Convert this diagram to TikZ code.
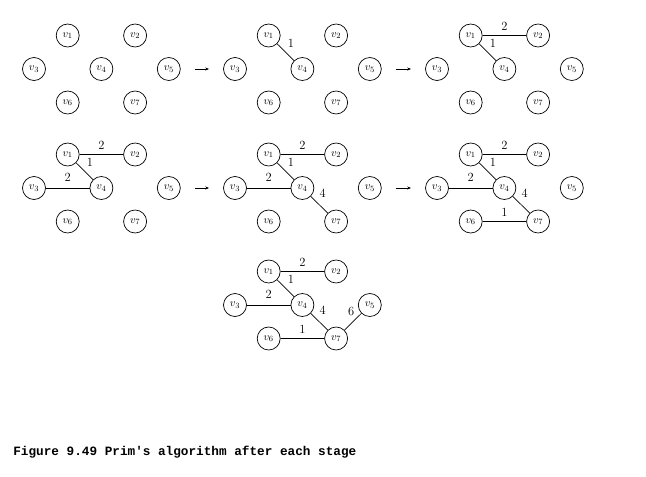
\documentclass[tikz,border=0pt]{standalone}
\usepackage{fontspec}
\newfontfamily\capfont{Liberation Mono}
\usetikzlibrary{positioning,arrows.meta}
\begin{document}
\begin{tikzpicture}[x=1pt, y=-1pt, node distance={33.5pt and 33.7pt}, line width=0.7pt,
	main/.style = {draw, circle, on grid, minimum size=23pt, inner sep=0pt, font=\fontsize{11}{12}\selectfont},
	wt/.style = {font=\fontsize{12.5}{13}\selectfont, inner sep=1pt},
	stage/.style = {-{Stealth[length=4pt, width=3pt]}, shorten <=14pt, shorten >=14pt}]
		\useasboundingbox (0,0) rectangle (646,477);
		\node[main] (a3) at (34,69) {$v_3$};
		\node[main] (a1) [above right=of a3] {$v_1$};
		\node[main] (a4) [below right=of a1] {$v_4$};
		\node[main] (a6) [below right=of a3] {$v_6$};
		\node[main] (a2) [above right=of a4] {$v_2$};
		\node[main] (a7) [below right=of a4] {$v_7$};
		\node[main] (a5) [below right=of a2] {$v_5$};
		\node[main] (b3) at (235,69) {$v_3$};
		\node[main] (b1) [above right=of b3] {$v_1$};
		\node[main] (b4) [below right=of b1] {$v_4$};
		\node[main] (b6) [below right=of b3] {$v_6$};
		\node[main] (b2) [above right=of b4] {$v_2$};
		\node[main] (b7) [below right=of b4] {$v_7$};
		\node[main] (b5) [below right=of b2] {$v_5$};
		\node[main] (c3) at (437,69) {$v_3$};
		\node[main] (c1) [above right=of c3] {$v_1$};
		\node[main] (c4) [below right=of c1] {$v_4$};
		\node[main] (c6) [below right=of c3] {$v_6$};
		\node[main] (c2) [above right=of c4] {$v_2$};
		\node[main] (c7) [below right=of c4] {$v_7$};
		\node[main] (c5) [below right=of c2] {$v_5$};
		\node[main] (d3) at (34,188) {$v_3$};
		\node[main] (d1) [above right=of d3] {$v_1$};
		\node[main] (d4) [below right=of d1] {$v_4$};
		\node[main] (d6) [below right=of d3] {$v_6$};
		\node[main] (d2) [above right=of d4] {$v_2$};
		\node[main] (d7) [below right=of d4] {$v_7$};
		\node[main] (d5) [below right=of d2] {$v_5$};
		\node[main] (e3) at (235,188) {$v_3$};
		\node[main] (e1) [above right=of e3] {$v_1$};
		\node[main] (e4) [below right=of e1] {$v_4$};
		\node[main] (e6) [below right=of e3] {$v_6$};
		\node[main] (e2) [above right=of e4] {$v_2$};
		\node[main] (e7) [below right=of e4] {$v_7$};
		\node[main] (e5) [below right=of e2] {$v_5$};
		\node[main] (f3) at (437,188) {$v_3$};
		\node[main] (f1) [above right=of f3] {$v_1$};
		\node[main] (f4) [below right=of f1] {$v_4$};
		\node[main] (f6) [below right=of f3] {$v_6$};
		\node[main] (f2) [above right=of f4] {$v_2$};
		\node[main] (f7) [below right=of f4] {$v_7$};
		\node[main] (f5) [below right=of f2] {$v_5$};
		\node[main] (g3) at (235,305) {$v_3$};
		\node[main] (g1) [above right=of g3] {$v_1$};
		\node[main] (g4) [below right=of g1] {$v_4$};
		\node[main] (g6) [below right=of g3] {$v_6$};
		\node[main] (g2) [above right=of g4] {$v_2$};
		\node[main] (g7) [below right=of g4] {$v_7$};
		\node[main] (g5) [below right=of g2] {$v_5$};
		\path
			(b1) edge node[wt, pos=0.15, anchor=west, xshift=7pt, yshift=3pt] {1} (b4)
			(c1) edge node[wt, pos=0.15, anchor=west, xshift=7pt, yshift=3pt] {1} (c4)
			(c1) edge node[wt, above=4pt] {2} (c2)
			(d1) edge node[wt, pos=0.15, anchor=west, xshift=7pt, yshift=3pt] {1} (d4)
			(d1) edge node[wt, above=4pt] {2} (d2)
			(d3) edge node[wt, above=5pt] {2} (d4)
			(e1) edge node[wt, pos=0.15, anchor=west, xshift=7pt, yshift=3pt] {1} (e4)
			(e1) edge node[wt, above=4pt] {2} (e2)
			(e3) edge node[wt, above=5pt] {2} (e4)
			(e4) edge node[wt, pos=0.15, anchor=west, xshift=5pt, yshift=6pt] {4} (e7)
			(f1) edge node[wt, pos=0.15, anchor=west, xshift=7pt, yshift=3pt] {1} (f4)
			(f1) edge node[wt, above=4pt] {2} (f2)
			(f3) edge node[wt, above=5pt] {2} (f4)
			(f4) edge node[wt, pos=0.15, anchor=west, xshift=5pt, yshift=6pt] {4} (f7)
			(f6) edge node[wt, above=4pt] {1} (f7)
			(g1) edge node[wt, pos=0.15, anchor=west, xshift=7pt, yshift=3pt] {1} (g4)
			(g1) edge node[wt, above=4pt] {2} (g2)
			(g3) edge node[wt, above=5pt] {2} (g4)
			(g4) edge node[wt, pos=0.15, anchor=west, xshift=5pt, yshift=6pt] {4} (g7)
			(g6) edge node[wt, above=4pt] {1} (g7)
			(g7) edge node[wt, pos=0.65, anchor=south east, yshift=2pt] {6} (g5);
		\draw[stage] (a5) -- (b3);
		\draw[stage] (b5) -- (c3);
		\draw[stage] (d5) -- (e3);
		\draw[stage] (e5) -- (f3);
		\node[anchor=west, inner sep=0pt, font=\capfont\bfseries\fontsize{12.7}{14}\selectfont] (cap) at (13,452) {Figure 9.49 Prim's algorithm after each stage};
	\end{tikzpicture}
\end{document}
